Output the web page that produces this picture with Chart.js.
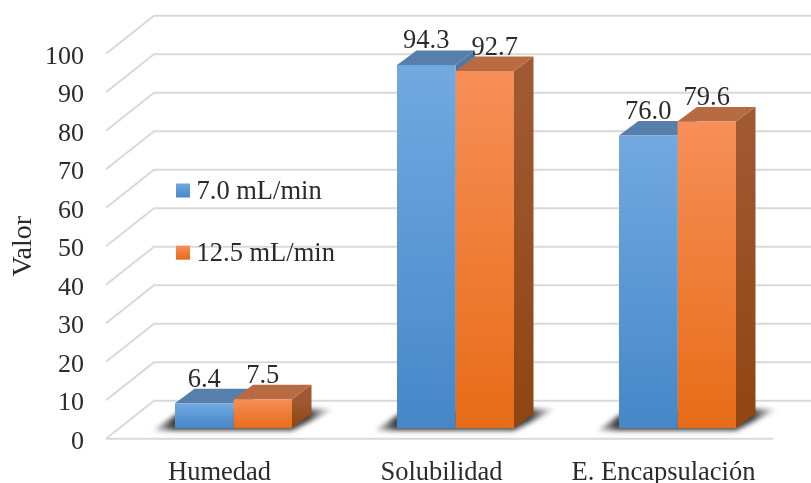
<!DOCTYPE html>
<html>
<head>
<meta charset="utf-8">
<style>
html, body { margin: 0; padding: 0; background: #fff; }
canvas { display: block; }
</style>
<script src="https://cdn.jsdelivr.net/npm/chart.js@4"></script>
</head>
<body>
<canvas id="barChart" width="811" height="483"></canvas>
<script>
const categories = ["Humedad", "Solubilidad", "E. Encapsulación"];
const serie70 = [6.4, 94.3, 76.0];
const serie125 = [7.5, 92.7, 79.6];
const yTicks = [0, 10, 20, 30, 40, 50, 60, 70, 80, 90, 100];

const FONT = '"Liberation Serif", "Times New Roman", serif';
const TEXT_COLOR = "#2b2b2b";
const WALL = { dx: 48, dy: -38 };     // profundidad de la pared
const SHIFT = { dx: 16.5, dy: -10.7 }; // barras sobre el piso
const BAR = { dx: 19.5, dy: -14.5 };   // profundidad de la barra

const colors = [
    { top: "#72a9e0", bottom: "#4687c8", roof: "#5680ab", sideTop: "#4f79a4", sideBottom: "#3c6a98" },
    { top: "#f68f58", bottom: "#e76c17", roof: "#b86a42", sideTop: "#a05a33", sideBottom: "#8f4512" },
];

function frontGradient(context) {
    const c = colors[context.datasetIndex];
    const y = context.chart.scales.y;
    if (context.raw === undefined || !y) return c.top;
    const y0 = y.getPixelForValue(context.raw);
    const y1 = y.getPixelForValue(0);
    if (!isFinite(y0) || !isFinite(y1)) return c.top;
    const g = context.chart.ctx.createLinearGradient(0, y0, 0, y1);
    g.addColorStop(0, c.top);
    g.addColorStop(1, c.bottom);
    return g;
}

function poly(ctx, pts, fill) {
    ctx.beginPath();
    pts.forEach((p, i) => (i ? ctx.lineTo(p[0], p[1]) : ctx.moveTo(p[0], p[1])));
    ctx.closePath();
    ctx.fillStyle = fill;
    ctx.fill();
}

// mueve los textos de un eje unos pixeles respecto a su posicion normal
function shiftLabels(scale, dx, dy) {
    if (scale._labelsShifted) return;
    scale._labelsShifted = true;
    const drawLabels = scale.drawLabels;
    scale.drawLabels = function (area) {
        scale.ctx.save();
        scale.ctx.translate(dx, dy);
        drawLabels.call(scale, area);
        scale.ctx.restore();
    };
}

const wallPlugin = {
    id: "wall",
    beforeDatasetsDraw(chart) {
        const ctx = chart.ctx;
        const y = chart.scales.y;
        const a = chart.chartArea;
        ctx.save();
        ctx.strokeStyle = "#d9d9d9";
        ctx.lineWidth = 2;
        yTicks.forEach((v) => {
            const py = y.getPixelForValue(v);
            ctx.beginPath();
            ctx.moveTo(a.left, py);
            ctx.lineTo(a.left + WALL.dx, py + WALL.dy);
            ctx.lineTo(chart.width, py + WALL.dy);
            ctx.stroke();
        });
        // borde frontal del piso
        const p0 = y.getPixelForValue(0);
        ctx.beginPath();
        ctx.moveTo(a.left, p0);
        ctx.lineTo(a.right + 1, p0);
        ctx.stroke();
        ctx.restore();

        // sombras sobre el piso
        const m0 = chart.getDatasetMeta(0).data;
        const m1 = chart.getDatasetMeta(1).data;
        categories.forEach((_, i) => {
            const left = m0[i].x - m0[i].width / 2 + SHIFT.dx;
            const right = m1[i].x + m1[i].width / 2 + SHIFT.dx;
            const base = y.getPixelForValue(0) + SHIFT.dy;
            const g = ctx.createLinearGradient(left - 22, 0, right + 42, 0);
            g.addColorStop(0, "rgba(70,70,70,0.2)");
            g.addColorStop(0.11, "rgba(45,45,45,0.9)");
            g.addColorStop(0.86, "rgba(45,45,45,0.9)");
            g.addColorStop(1, "rgba(70,70,70,0)");
            ctx.save();
            ctx.filter = "blur(2.5px)";
            poly(ctx, [
                [left - 22, base + 2.5],
                [right, base + 2.5],
                [right + 42, base - 19],
                [right + 10, base - 19],
                [left + 5, base - 16],
            ], g);
            ctx.restore();
        });

        // caras laterales y superiores
        [0, 1].forEach((d) => {
            const c = colors[d];
            chart.getDatasetMeta(d).data.forEach((el) => {
                const l = el.x - el.width / 2 + SHIFT.dx;
                const r = el.x + el.width / 2 + SHIFT.dx;
                const t = el.y + SHIFT.dy;
                const b = el.base + SHIFT.dy;
                const g = ctx.createLinearGradient(0, t, 0, b);
                g.addColorStop(0, c.sideTop);
                g.addColorStop(1, c.sideBottom);
                poly(ctx, [[r, t], [r + BAR.dx, t + BAR.dy], [r + BAR.dx, b + BAR.dy], [r, b]], g);
                poly(ctx, [[l, t], [l + BAR.dx, t + BAR.dy], [r + BAR.dx, t + BAR.dy], [r, t]], c.roof);
            });
        });

        ctx.save();
        ctx.translate(SHIFT.dx, SHIFT.dy);
    },
    afterDatasetsDraw(chart) {
        const ctx = chart.ctx;
        ctx.restore();

        // etiquetas de valor
        ctx.save();
        ctx.font = "26.5px " + FONT;
        ctx.fillStyle = TEXT_COLOR;
        ctx.textAlign = "center";
        ctx.textBaseline = "alphabetic";
        chart.data.datasets.forEach((ds, d) => {
            chart.getDatasetMeta(d).data.forEach((el, i) => {
                // la etiqueta 92.7 esta movida a mano en el original
                const nudge = d === 1 && i === 1 ? 10 : 0;
                ctx.fillText(ds.data[i].toFixed(1), el.x + SHIFT.dx + nudge, el.y + SHIFT.dy - 16.5);
            });
        });

        // leyenda dentro del grafico
        const legendY = [190.5, 252.7];
        chart.data.datasets.forEach((ds, d) => {
            const g = ctx.createLinearGradient(0, legendY[d] - 7, 0, legendY[d] + 7);
            g.addColorStop(0, colors[d].top);
            g.addColorStop(1, colors[d].bottom);
            ctx.fillStyle = g;
            ctx.fillRect(176, legendY[d] - 7, 14, 14);
            ctx.fillStyle = TEXT_COLOR;
            ctx.textAlign = "left";
            ctx.fillText(ds.label, 196.5, legendY[d] + 8.6);
        });
        ctx.restore();
    },
};

new Chart(document.getElementById("barChart").getContext("2d"), {
    type: "bar",
    data: {
        labels: categories,
        datasets: [
            { label: "7.0 mL/min", data: serie70, backgroundColor: frontGradient, borderWidth: 0, clip: false },
            { label: "12.5 mL/min", data: serie125, backgroundColor: frontGradient, borderWidth: 0, clip: false },
        ],
    },
    options: {
        responsive: false,
        animation: false,
        devicePixelRatio: 1,
        layout: { padding: { top: 53.7, right: 39, left: 0, bottom: 0 } },
        categoryPercentage: 0.527,
        barPercentage: 1,
        plugins: {
            legend: { display: false },
            tooltip: { enabled: false },
        },
        scales: {
            x: {
                grid: { display: false },
                border: { display: false },
                ticks: {
                    color: TEXT_COLOR,
                    font: { family: FONT, size: 26.5 },
                    padding: 10,
                    maxRotation: 0,
                },
                afterFit(scale) { scale.height = 44.3; },
                afterUpdate(scale) { shiftLabels(scale, 2.5, 0); },
            },
            y: {
                min: 0,
                max: 100,
                afterBuildTicks(scale) { scale.ticks = yTicks.map((v) => ({ value: v })); },
                grid: { display: false },
                border: { display: false },
                ticks: {
                    color: TEXT_COLOR,
                    font: { family: FONT, size: 26 },
                    padding: 14,
                },
                title: {
                    display: true,
                    text: "Valor",
                    color: TEXT_COLOR,
                    font: { family: FONT, size: 28 },
                    padding: { top: 7, bottom: 0 },
                },
                afterFit(scale) { scale.width = 106; },
                afterUpdate(scale) { shiftLabels(scale, 0, 3); },
            },
        },
    },
    plugins: [wallPlugin],
});
</script>
</body>
</html>
